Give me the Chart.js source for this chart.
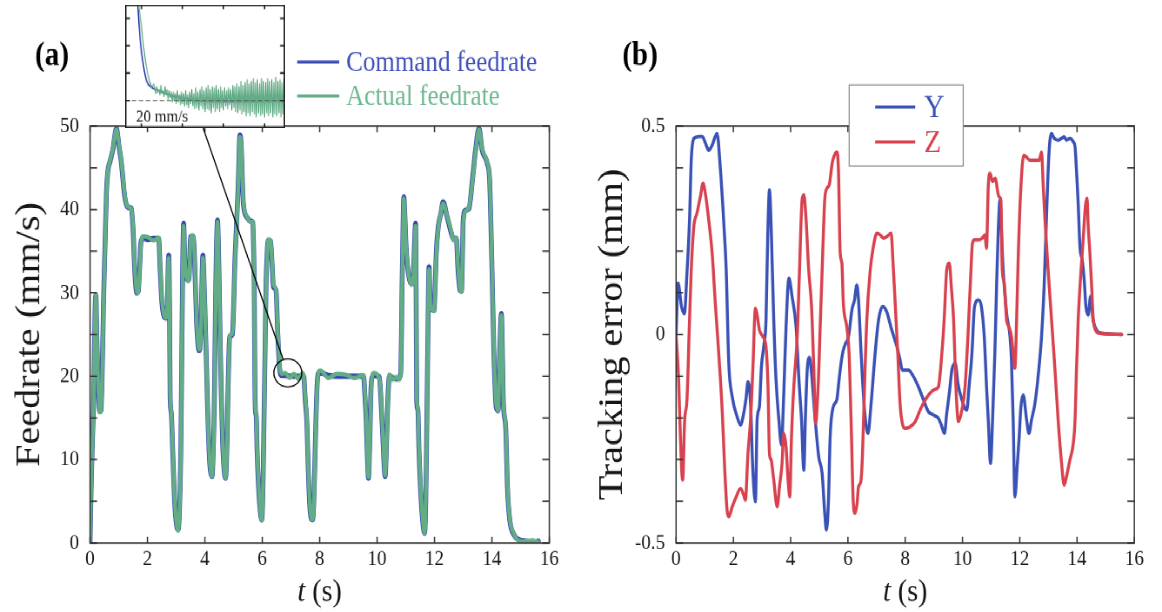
<!DOCTYPE html>
<html><head><meta charset="utf-8">
<script src="https://cdn.jsdelivr.net/npm/chart.js@4.4.0/dist/chart.umd.min.js"></script>
<style>
html,body{margin:0;padding:0;background:#fff;overflow:hidden;width:1162px;height:612px;}
#stage{position:absolute;left:0;top:0;width:1162px;height:532px;transform-origin:0 0;transform:scale(1,1.150376);}
canvas{position:absolute;}
</style></head><body>
<div id="stage">
<canvas id="chartA" width="581" height="532" style="left:0;top:0"></canvas>
<canvas id="chartB" width="581" height="532" style="left:581px;top:0"></canvas>
<canvas id="inset" width="160" height="107" style="left:125px;top:4.35px"></canvas>
</div>
<script>
// ---------------- DATA ----------------
const feedTime = [
0.00,0.04,0.08,0.13,0.17,0.20,0.24,0.29,0.34,0.38,
0.42,0.47,0.52,0.57,0.62,0.70,0.80,0.92,1.00,1.09,
1.21,1.30,1.44,1.50,1.56,1.63,1.68,1.72,1.77,1.85,
2.00,2.20,2.39,2.44,2.50,2.56,2.64,2.69,2.74,2.77,
2.79,2.83,2.88,2.95,3.02,3.07,3.12,3.16,3.19,3.22,
3.26,3.30,3.34,3.42,3.46,3.50,3.57,3.62,3.67,3.71,
3.76,3.80,3.85,3.89,3.93,3.97,4.00,4.05,4.09,4.13,
4.17,4.25,4.29,4.33,4.38,4.44,4.47,4.50,4.54,4.58,
4.62,4.67,4.72,4.77,4.81,4.85,4.87,4.96,5.00,5.04,
5.10,5.16,5.22,5.26,5.34,5.46,5.60,5.67,5.70,5.72,
5.74,5.76,5.79,5.82,5.87,5.93,5.98,6.02,6.06,6.10,
6.13,6.17,6.21,6.29,6.34,6.39,6.48,6.53,6.60,6.68,
6.80,6.95,7.10,7.25,7.40,7.44,7.50,7.55,7.60,7.65,
7.70,7.75,7.80,7.84,7.88,7.92,7.97,8.02,8.30,8.60,
8.90,9.20,9.53,9.57,9.62,9.66,9.70,9.74,9.79,9.84,
9.88,10.08,10.13,10.20,10.28,10.32,10.37,10.43,10.55,10.69,
10.76,10.82,10.85,10.87,10.90,10.93,10.97,11.01,11.11,11.20,
11.26,11.30,11.34,11.36,11.38,11.42,11.46,11.51,11.58,11.65,
11.69,11.72,11.76,11.81,11.84,11.86,11.98,12.02,12.06,12.13,
12.22,12.30,12.44,12.59,12.65,12.76,12.82,12.89,12.94,12.97,
13.00,13.08,13.20,13.32,13.43,13.55,13.66,13.84,13.92,13.99,
14.07,14.15,14.22,14.27,14.33,14.37,14.40,14.48,14.54,14.62,
14.77,14.94,15.17,15.40,15.62];
const commandFeed = [
0.0,7.0,12.0,18.0,27.0,29.7,24.0,18.0,15.8,15.9,
20.0,29.0,35.5,42.0,44.6,45.8,47.3,49.7,47.8,45.6,
41.5,40.3,40.1,37.5,32.5,30.0,30.2,32.5,36.0,36.6,
36.4,36.5,36.5,33.0,29.0,27.4,27.0,28.5,34.5,28.0,
17.5,15.6,11.0,4.8,2.0,1.6,4.5,10.8,20.0,30.7,
38.3,34.0,32.2,31.5,32.5,36.7,36.8,35.7,31.0,26.7,
23.8,23.1,24.5,30.0,34.5,31.5,28.3,22.0,16.8,12.5,
9.6,8.0,11.0,16.8,30.7,38.7,36.0,30.7,23.0,16.8,
12.0,8.8,7.8,12.0,18.7,24.0,24.8,25.0,28.0,33.1,
38.0,42.7,48.9,48.0,40.7,39.1,38.6,38.4,35.0,30.7,
20.0,15.9,15.2,11.0,6.8,3.8,2.8,6.0,14.7,24.0,
30.7,34.8,36.3,36.2,33.5,30.7,30.3,25.9,21.1,20.1,
20.1,20.0,20.0,20.0,20.0,20.0,17.0,14.7,9.0,4.8,
3.0,2.8,5.5,10.8,16.0,19.5,20.4,20.4,20.1,20.0,
20.0,20.0,20.0,18.0,14.7,10.5,7.8,11.5,18.7,20.0,
20.1,19.9,17.5,12.7,8.0,11.0,16.8,20.0,19.8,19.7,
19.8,20.3,25.0,30.7,37.0,41.5,39.0,35.5,31.9,31.1,
32.0,35.5,38.3,30.0,17.0,16.0,11.0,6.8,3.0,1.2,
4.0,10.8,22.0,33.1,30.0,28.3,27.9,30.5,34.7,37.9,
39.5,40.9,39.1,37.1,36.5,36.5,32.7,30.3,30.2,34.0,
38.7,39.9,40.1,43.5,47.1,49.7,47.1,45.5,43.5,34.7,
22.7,16.3,15.9,22.7,27.5,22.0,16.7,13.9,6.8,2.8,
1.0,0.4,0.2,0.1,0.2];
const actualFeed = [
0.0,6.5,11.5,17.5,26.5,29.8,24.5,18.5,15.7,15.9,
19.5,28.5,35.0,41.5,44.5,45.9,47.4,49.6,48.0,45.8,
41.7,40.4,40.0,37.9,33.0,30.1,30.0,32.0,35.6,36.8,
36.7,36.3,36.6,33.4,29.4,27.6,27.0,28.3,34.2,28.5,
18.0,15.8,11.4,5.2,2.1,1.5,4.0,10.2,19.4,30.2,
38.0,34.4,32.4,31.4,32.2,36.4,36.9,35.9,31.4,27.1,
24.0,23.2,24.2,29.5,34.2,31.8,28.6,22.4,17.2,12.8,
9.8,8.0,10.5,16.2,30.2,38.5,36.3,31.0,23.4,17.2,
12.4,9.0,7.8,11.5,18.2,23.7,24.9,25.1,27.6,32.7,
37.6,42.3,48.7,48.2,41.0,39.2,38.5,38.5,35.4,31.2,
20.6,16.2,15.4,11.4,7.2,4.0,2.7,5.5,14.1,23.5,
30.2,34.5,36.4,36.3,33.8,31.0,30.4,26.3,21.5,20.3,
20.4,19.8,20.3,19.7,20.4,20.1,17.4,15.1,9.4,5.1,
3.1,2.8,5.0,10.2,15.5,19.2,20.6,20.7,19.8,20.3,
20.2,19.8,20.1,18.4,15.1,10.9,7.9,11.0,18.2,20.2,
20.4,19.7,17.9,13.1,8.1,10.5,16.3,20.2,19.6,19.9,
19.6,20.1,24.4,30.2,36.6,41.3,39.3,35.8,32.0,31.0,
31.8,35.0,38.0,31.0,17.6,16.2,11.4,7.2,3.3,1.2,
3.5,10.2,21.4,32.8,30.3,28.5,27.8,30.0,34.3,37.7,
39.6,40.7,39.2,37.3,36.3,36.6,33.1,30.5,30.1,33.6,
38.4,39.8,40.2,43.3,46.9,49.6,47.3,45.6,43.8,35.2,
23.2,16.6,15.9,22.2,27.3,22.4,17.0,14.1,7.2,3.0,
1.1,0.3,0.2,0.3,0.1];

// inset (zoom of the 20 mm/s segment)
const insetCmdTime = [6.565,6.574,6.582,6.594,6.610,6.626,6.651,6.692,6.725,6.805,6.872,7.035,7.300];
const insetCommand = [26.0,24.5,23.5,22.2,21.26,20.7,20.47,20.34,20.22,20.1,19.98,19.95,19.97];
const insetTime = [
6.540,6.550,6.560,6.570,6.580,6.590,6.600,6.610,6.620,6.630,6.640,6.650,6.660,
6.665,6.670,6.675,6.680,6.685,6.690,6.695,6.700,6.705,6.710,
6.715,6.720,6.725,6.730,6.735,6.740,6.745,6.750,6.755,6.760,
6.765,6.770,6.775,6.780,6.785,6.790,6.795,6.800,6.805,6.810,
6.815,6.820,6.825,6.830,6.835,6.840,6.845,6.850,6.855,6.860,
6.865,6.870,6.875,6.880,6.885,6.890,6.895,6.900,6.905,6.910,
6.915,6.920,6.925,6.930,6.935,6.940,6.945,6.950,6.955,6.960,
6.965,6.970,6.975,6.980,6.985,6.990,6.995,7.000,7.005,7.010,
7.015,7.020,7.025,7.030,7.035,7.040,7.045,7.050,7.055,7.060,
7.065,7.070,7.075,7.080,7.085,7.090,7.095,7.100,7.105,7.110,
7.115,7.120,7.125,7.130,7.135,7.140,7.145,7.150,7.155,7.160,
7.165,7.170,7.175,7.180,7.185,7.190,7.195,7.200,7.205,7.210,
7.215,7.220,7.225,7.230,7.235,7.240,7.245,7.250,7.255,7.260,
7.265,7.270,7.275,7.280,7.285,7.290,7.295,7.300];
const insetActual = [
26.0,25.0,24.3,23.9,23.6,23.3,22.7,22.0,21.4,21.0,20.7,20.5,20.6,
20.45,20.25,20.50,20.30,20.40,20.20,20.55,20.25,20.35,20.15,
20.50,20.20,20.40,20.05,20.35,20.10,20.30,19.95,20.30,20.00,
20.25,19.90,20.35,19.95,20.20,19.85,20.30,19.90,20.25,19.80,
20.35,19.85,20.20,19.75,20.30,19.90,20.40,19.80,20.25,19.70,
20.45,19.75,20.30,19.65,20.40,19.80,20.50,19.70,20.35,19.60,
20.45,19.70,20.55,19.65,20.40,19.55,20.50,19.75,20.45,19.60,
20.55,19.70,20.40,19.60,20.50,19.75,20.35,19.65,20.45,19.80,
20.35,19.70,20.45,19.85,20.40,19.65,20.55,19.75,20.50,19.60,
20.60,19.55,20.50,19.65,20.70,19.50,20.55,19.60,20.65,19.45,
20.75,19.55,20.60,19.45,20.70,19.60,20.80,19.50,20.65,19.40,
20.75,19.55,20.60,19.45,20.80,19.50,20.70,19.40,20.65,19.55,
20.80,19.45,20.70,19.55,20.75,19.40,20.65,19.50,20.85,19.45,
20.70,19.55,20.75,19.40,20.65,19.50,20.80,19.45];
const insetRefLevel = 20;
const insetTickT = [6.6,6.8,7.0,7.2];
const insetTickV = [20,21,22,23];
const zoomSpot = [6.89, 20.4];

const yTime = [
0.00,0.07,0.19,0.29,0.38,0.47,0.53,0.62,0.79,0.91,
1.03,1.14,1.26,1.43,1.55,1.66,1.75,1.84,1.96,2.13,
2.25,2.36,2.45,2.51,2.60,2.68,2.77,2.83,2.91,2.98,
3.06,3.14,3.20,3.26,3.33,3.41,3.49,3.59,3.68,3.76,
3.84,3.94,4.05,4.19,4.29,4.38,4.46,4.52,4.58,4.66,
4.75,4.84,4.98,5.10,5.19,5.25,5.32,5.38,5.49,5.61,
5.69,5.76,5.84,5.92,6.02,6.14,6.23,6.31,6.37,6.46,
6.58,6.70,6.81,6.95,7.07,7.21,7.35,7.53,7.71,7.82,
7.90,8.11,8.29,8.46,8.64,8.81,8.99,9.16,9.26,9.37,
9.45,9.54,9.63,9.75,9.84,9.98,10.15,10.23,10.33,10.42,
10.56,10.66,10.76,10.84,10.90,10.98,11.05,11.13,11.19,11.25,
11.31,11.36,11.42,11.54,11.66,11.71,11.77,11.83,11.91,11.98,
12.04,12.12,12.24,12.32,12.41,12.53,12.64,12.76,12.85,12.93,
13.02,13.11,13.21,13.34,13.45,13.55,13.63,13.75,13.87,13.93,
13.98,14.04,14.10,14.18,14.25,14.31,14.39,14.47,14.56,14.68,
14.86,15.56];
const yError = [
0.000,0.123,0.067,0.050,0.147,0.275,0.418,0.470,0.475,0.475,
0.458,0.442,0.454,0.482,0.394,0.275,0.155,-0.069,-0.149,-0.197,
-0.217,-0.189,-0.149,-0.113,-0.165,-0.325,-0.401,-0.205,-0.173,-0.077,
-0.029,0.035,0.235,0.347,0.235,0.035,-0.109,-0.205,-0.265,-0.141,
0.019,0.135,0.091,0.019,-0.109,-0.205,-0.325,-0.189,-0.085,-0.055,
-0.109,-0.189,-0.293,-0.333,-0.429,-0.469,-0.400,-0.245,-0.173,-0.157,
-0.109,-0.069,-0.037,-0.021,-0.005,0.059,0.083,0.119,0.083,-0.045,
-0.181,-0.237,-0.165,-0.045,0.035,0.067,0.055,0.011,-0.029,-0.061,
-0.085,-0.085,-0.101,-0.125,-0.157,-0.185,-0.193,-0.201,-0.217,-0.237,
-0.189,-0.141,-0.085,-0.069,-0.117,-0.157,-0.181,-0.125,-0.045,0.067,
0.083,0.067,-0.005,-0.125,-0.205,-0.309,-0.205,-0.045,0.115,0.251,
0.323,0.251,0.155,0.051,-0.005,-0.061,-0.205,-0.389,-0.317,-0.245,
-0.173,-0.145,-0.205,-0.237,-0.205,-0.165,-0.101,-0.005,0.115,0.275,
0.435,0.482,0.470,0.466,0.470,0.474,0.466,0.470,0.462,0.450,
0.394,0.315,0.211,0.179,0.131,0.067,0.047,0.091,0.035,0.011,
0.003,0.000];
const zTime = [
0.00,0.09,0.15,0.23,0.30,0.38,0.47,0.53,0.62,0.73,
0.85,0.94,1.02,1.14,1.26,1.37,1.49,1.61,1.70,1.78,
1.84,1.96,2.10,2.25,2.36,2.42,2.51,2.60,2.68,2.77,
2.83,2.91,3.03,3.14,3.21,3.26,3.32,3.41,3.53,3.61,
3.70,3.76,3.84,3.91,3.97,4.03,4.11,4.23,4.31,4.40,
4.46,4.54,4.63,4.73,4.81,4.87,4.96,5.04,5.12,5.19,
5.27,5.35,5.45,5.53,5.61,5.67,5.73,5.79,5.84,5.96,
6.04,6.11,6.19,6.25,6.32,6.37,6.45,6.51,6.58,6.66,
6.78,6.89,7.01,7.13,7.24,7.36,7.51,7.57,7.65,7.74,
7.82,7.90,8.00,8.17,8.35,8.52,8.70,8.87,9.05,9.16,
9.28,9.36,9.45,9.54,9.61,9.69,9.77,9.86,9.98,10.09,
10.19,10.27,10.35,10.42,10.56,10.69,10.78,10.84,10.90,10.96,
11.05,11.14,11.27,11.34,11.39,11.46,11.54,11.62,11.71,11.77,
11.83,11.89,11.95,12.04,12.14,12.23,12.35,12.53,12.68,12.76,
12.82,12.88,12.99,13.11,13.23,13.34,13.46,13.55,13.63,13.75,
13.87,13.93,13.98,14.04,14.14,14.22,14.29,14.35,14.39,14.45,
14.51,14.56,14.64,14.80,15.56];
const zError = [
0.000,-0.109,-0.245,-0.349,-0.205,-0.157,0.035,0.155,0.259,0.291,
0.331,0.363,0.339,0.275,0.195,0.075,-0.045,-0.181,-0.325,-0.421,
-0.437,-0.413,-0.389,-0.369,-0.385,-0.397,-0.285,-0.205,-0.085,0.063,
0.047,0.011,-0.005,-0.029,-0.125,-0.285,-0.301,-0.349,-0.413,-0.365,
-0.309,-0.237,-0.269,-0.349,-0.389,-0.245,-0.125,-0.005,0.155,0.323,
0.335,0.275,0.155,0.067,-0.085,-0.213,-0.125,0.035,0.195,0.323,
0.351,0.359,0.411,0.430,0.438,0.394,0.195,0.171,0.075,0.019,
-0.045,-0.205,-0.405,-0.429,-0.405,-0.365,-0.353,-0.285,-0.125,0.035,
0.155,0.211,0.243,0.239,0.231,0.235,0.243,0.179,0.075,-0.045,
-0.165,-0.213,-0.225,-0.221,-0.209,-0.181,-0.157,-0.140,-0.131,-0.125,
-0.045,0.035,0.155,0.171,0.115,0.035,-0.125,-0.209,-0.181,-0.125,
-0.005,0.115,0.219,0.227,0.227,0.231,0.239,0.207,0.355,0.387,
0.367,0.375,0.331,0.323,0.155,0.123,0.035,0.019,-0.005,-0.045,
-0.081,0.035,0.195,0.355,0.430,0.426,0.418,0.418,0.418,0.438,
0.355,0.275,0.155,0.035,-0.085,-0.205,-0.309,-0.361,-0.341,-0.301,
-0.261,-0.205,-0.085,0.035,0.155,0.235,0.307,0.327,0.259,0.195,
0.115,0.043,0.011,0.003,0.000];

const timeTicks = {min:0, max:16, step:2};
const feedAxis = {min:0, max:50, step:5, labelEvery:10};
const errAxis = {min:-0.5, max:0.5, step:0.1, labels:['-0.5','0','0.5']};

// ---------------- STYLE / LAYOUT ----------------
const S = 612/532;
const FONT = '"Liberation Serif","Times New Roman",serif';
Chart.defaults.font.family = FONT;
const C_CMD = '#3346b0', C_ACT = '#62ad86', C_Y = '#3a51b6', C_Z = '#d8424f';
const INK = '#151515';
const pts = (xs, ys) => xs.map((x, i) => ({x, y: ys[i]}));

function frameAndTicks(chart) {
  const {ctx, chartArea: a, scales: {x, y}} = chart;
  ctx.save();
  ctx.strokeStyle = '#333'; ctx.lineWidth = 1.3;
  ctx.strokeRect(a.left, a.top, a.right - a.left, a.bottom - a.top);
  ctx.beginPath();
  x.ticks.forEach(t => { const p = x.getPixelForValue(t.value);
    ctx.moveTo(p, a.bottom); ctx.lineTo(p, a.bottom - 5.5);
    ctx.moveTo(p, a.top); ctx.lineTo(p, a.top + 5.5); });
  y.ticks.forEach(t => { const p = y.getPixelForValue(t.value);
    ctx.moveTo(a.left, p); ctx.lineTo(a.left + 7, p);
    ctx.moveTo(a.right, p); ctx.lineTo(a.right - 7, p); });
  ctx.stroke();
  ctx.restore();
}
function xTitle(chart) {
  const {ctx, chartArea: a} = chart;
  const cx = (a.left + a.right) / 2, cy = 593 / S;
  ctx.save(); ctx.fillStyle = INK; ctx.textBaseline = 'middle'; ctx.textAlign = 'left';
  const fi = 'italic 28px ' + FONT, fn = '28px ' + FONT;
  ctx.font = fi; const w1 = ctx.measureText('t').width;
  ctx.font = fn; const w2 = ctx.measureText(' (s)').width;
  const x0 = cx - (w1 + w2) / 2;
  ctx.font = fi; ctx.fillText('t', x0, cy);
  ctx.font = fn; ctx.fillText(' (s)', x0 + w1, cy);
  ctx.restore();
}
function panelLabel(chart, text, cx) {
  const ctx = chart.ctx;
  ctx.save(); ctx.fillStyle = '#000'; ctx.font = 'bold 29px ' + FONT;
  ctx.textAlign = 'center'; ctx.textBaseline = 'middle';
  ctx.fillText(text, cx, 56 / S); ctx.restore();
}

const decorA = {
  id: 'decorA',
  afterDatasetsDraw(chart) {
    frameAndTicks(chart);
    const {ctx, scales: {x, y}} = chart;
    const cx = x.getPixelForValue(zoomSpot[0]), cy = y.getPixelForValue(zoomSpot[1]);
    const r = 14;
    ctx.save(); ctx.strokeStyle = '#000'; ctx.lineWidth = 1.2;
    ctx.beginPath(); ctx.ellipse(cx, cy, r, r / S, 0, 0, Math.PI * 2); ctx.stroke();
    const x0 = 203, y0 = 128 / S;
    const dx = x0 - cx, dy = (y0 - cy) * S, d = Math.hypot(dx, dy);
    ctx.beginPath(); ctx.moveTo(x0, y0); ctx.lineTo(cx + r * dx / d, cy + (r * dy / d) / S); ctx.stroke();
    ctx.restore();
  },
  afterDraw(chart) {
    xTitle(chart); panelLabel(chart, '(a)', 52);
    const ctx = chart.ctx;
    const entries = [
      {ds: chart.data.datasets[0], y: 62, text: '#4051b9'},
      {ds: chart.data.datasets[1], y: 96, text: '#6db891'}];
    ctx.save();
    entries.forEach(e => {
      ctx.strokeStyle = e.ds.borderColor; ctx.lineWidth = 2.6;
      ctx.beginPath(); ctx.moveTo(297, e.y / S); ctx.lineTo(339, e.y / S); ctx.stroke();
      ctx.fillStyle = e.text; ctx.font = '25px ' + FONT; ctx.textBaseline = 'middle'; ctx.textAlign = 'left';
      ctx.fillText(e.ds.label, 346, e.y / S + 1);
    });
    ctx.restore();
  }
};
const decorB = {
  id: 'decorB',
  afterDatasetsDraw(chart) { frameAndTicks(chart); },
  afterDraw(chart) {
    xTitle(chart); panelLabel(chart, '(b)', 59);
    const ctx = chart.ctx;
    const bx0 = 849 - 581, bx1 = 963 - 581, by0 = 85 / S, by1 = 166 / S;
    ctx.save();
    ctx.fillStyle = '#fff'; ctx.fillRect(bx0, by0, bx1 - bx0, by1 - by0);
    ctx.strokeStyle = '#8a8a8a'; ctx.lineWidth = 1.1; ctx.strokeRect(bx0, by0, bx1 - bx0, by1 - by0);
    const dsY = chart.data.datasets.find(d => d.label === 'Y');
    const dsZ = chart.data.datasets.find(d => d.label === 'Z');
    [{ds: dsY, y: 107}, {ds: dsZ, y: 142}].forEach(e => {
      ctx.strokeStyle = e.ds.borderColor; ctx.lineWidth = 2.6;
      ctx.beginPath(); ctx.moveTo(875 - 581, e.y / S); ctx.lineTo(915 - 581, e.y / S); ctx.stroke();
      ctx.fillStyle = e.ds.borderColor; ctx.font = '28px ' + FONT; ctx.textBaseline = 'middle'; ctx.textAlign = 'left';
      ctx.fillText(e.ds.label, 924 - 581, e.y / S + 1);
    });
    ctx.restore();
  }
};
const decorInset = {
  id: 'decorInset',
  beforeDraw(chart) { const {ctx, width, height} = chart; ctx.save(); ctx.fillStyle = '#fff'; ctx.fillRect(0, 0, width, height); ctx.restore(); },
  afterDatasetsDraw(chart) {
    const {ctx, width, height, scales: {x, y}} = chart;
    ctx.save();
    ctx.strokeStyle = '#222'; ctx.lineWidth = 1.4;
    ctx.strokeRect(0.7, 0.7, width - 1.4, height - 1.4);
    ctx.beginPath();
    insetTickT.forEach(t => { const p = x.getPixelForValue(t); ctx.moveTo(p, height); ctx.lineTo(p, height - 4); ctx.moveTo(p, 0); ctx.lineTo(p, 4); });
    insetTickV.forEach(v => { const p = y.getPixelForValue(v); ctx.moveTo(0, p); ctx.lineTo(5, p); ctx.moveTo(width, p); ctx.lineTo(width - 5, p); });
    ctx.stroke();
    ctx.fillStyle = '#111'; ctx.font = '15px ' + FONT; ctx.textBaseline = 'middle'; ctx.textAlign = 'left';
    ctx.fillText(insetRefLevel + ' mm/s', 11, (117 - 5) / S);
    ctx.restore();
  }
};

function axisX() {
  return { type: 'linear', min: timeTicks.min, max: timeTicks.max,
    grid: {display: false, drawTicks: false}, border: {display: false},
    ticks: {stepSize: timeTicks.step, autoSkip: false, maxRotation: 0, padding: 3, color: INK, font: {size: 19}},
    afterFit(s) { s.height = 40; } };
}
const common = {
  responsive: false, devicePixelRatio: S, animation: false, events: [],
  elements: {point: {radius: 0}, line: {cubicInterpolationMode: 'monotone', borderJoinStyle: 'round', borderCapStyle: 'round'}},
};

new Chart(document.getElementById('chartA'), {
  type: 'line',
  data: {datasets: [
    {label: 'Command feedrate', data: pts(feedTime, commandFeed), borderColor: C_CMD, borderWidth: 4.8, order: 2},
    {label: 'Actual feedrate', data: pts(feedTime, actualFeed), borderColor: C_ACT, borderWidth: 3.8, order: 1}
  ]},
  options: Object.assign({}, common, {
    layout: {padding: {left: 0, top: 126 / S, right: 581 - 549, bottom: 532 - 543 / S - 40}},
    plugins: {legend: {display: false}, tooltip: {enabled: false}},
    scales: {
      x: axisX(),
      y: {min: feedAxis.min, max: feedAxis.max,
        grid: {display: false, drawTicks: false}, border: {display: false},
        ticks: {stepSize: feedAxis.step, autoSkip: false, padding: 11, color: INK, font: {size: 19},
          callback: v => (v % feedAxis.labelEvery === 0 ? String(v) : '')},
        title: {display: true, text: 'Feedrate (mm/s)', color: INK, font: {size: 35}, padding: {top: 9, bottom: 0}},
        afterFit(s) { s.width = 90; }}
    }
  }),
  plugins: [decorA]
});

new Chart(document.getElementById('chartB'), {
  type: 'line',
  data: {datasets: [
    {label: 'Y', data: pts(yTime, yError), borderColor: C_Y, borderWidth: 3, order: 2},
    {label: 'Z', data: pts(zTime, zError), borderColor: C_Z, borderWidth: 3, order: 1}
  ]},
  options: Object.assign({}, common, {
    layout: {padding: {left: 0, top: 126 / S, right: 581 - 553, bottom: 532 - 543 / S - 40}},
    plugins: {legend: {display: false}, tooltip: {enabled: false}},
    scales: {
      x: axisX(),
      y: {min: errAxis.min, max: errAxis.max,
        grid: {display: false, drawTicks: false}, border: {display: false},
        ticks: {stepSize: errAxis.step, autoSkip: false, padding: 11, color: INK, font: {size: 19},
          callback: v => { const r = Math.round(v * 10) / 10; return r === -0.5 ? errAxis.labels[0] : r === 0 ? errAxis.labels[1] : r === 0.5 ? errAxis.labels[2] : ''; }},
        title: {display: true, text: 'Tracking error (mm)', color: INK, font: {size: 35}, padding: {top: 11, bottom: 0}},
        afterFit(s) { s.width = 95; }}
    }
  }),
  plugins: [decorB]
});

new Chart(document.getElementById('inset'), {
  type: 'line',
  data: {datasets: [
    {label: 'ref', data: [{x: 6.52, y: insetRefLevel}, {x: 7.30, y: insetRefLevel}], borderColor: '#555', borderWidth: 1, borderDash: [4, 3], order: 0},
    {label: 'Actual feedrate', data: pts(insetTime, insetActual), borderColor: C_ACT, borderWidth: 1.1, order: 1, tension: 0, cubicInterpolationMode: 'default'},
    {label: 'Command feedrate', data: pts(insetCmdTime, insetCommand), borderColor: C_CMD, borderWidth: 1.4, order: 2}
  ]},
  options: Object.assign({}, common, {
    layout: {padding: 0},
    plugins: {legend: {display: false}, tooltip: {enabled: false}},
    scales: {x: {type: 'linear', display: false, min: 6.52, max: 7.30}, y: {display: false, min: 19, max: 23.5}}
  }),
  plugins: [decorInset]
});
</script>
</body></html>
